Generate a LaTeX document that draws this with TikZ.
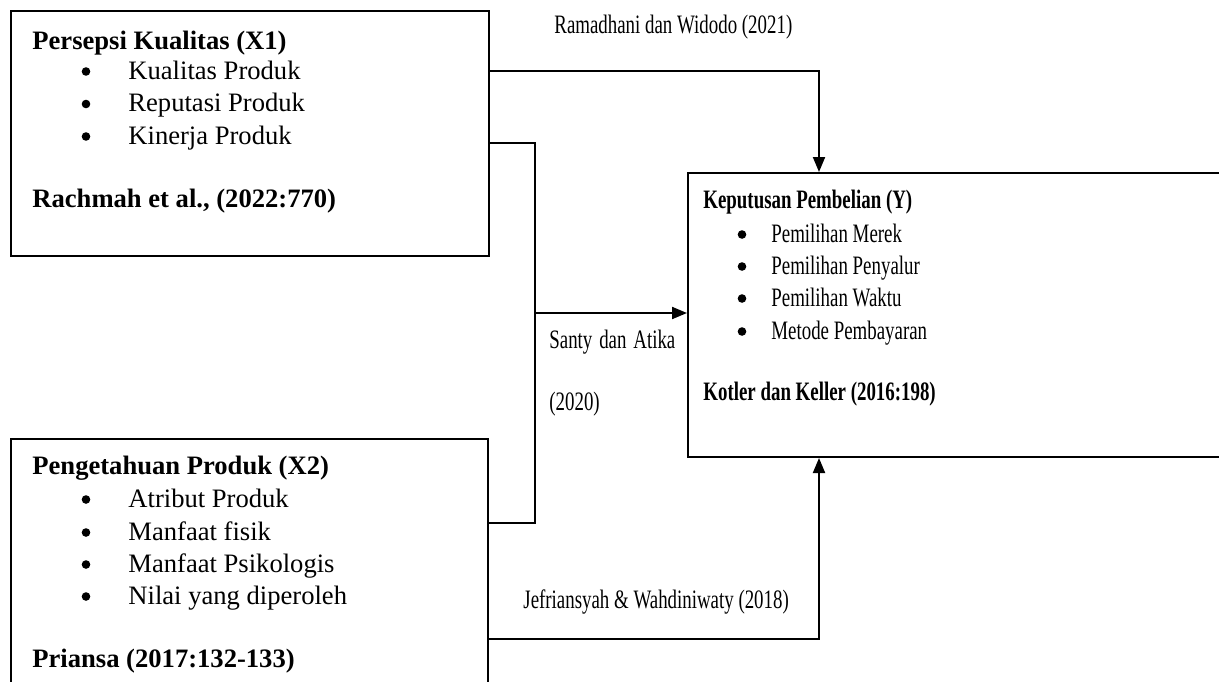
\documentclass[tikz,border=0pt]{standalone}
\usepackage{fontspec}
\usepackage{graphicx}
\setmainfont{Liberation Serif}
\usetikzlibrary{arrows.meta}
\tikzset{
  box/.style={draw, line width=1pt, rectangle, inner sep=0pt},
  txt/.style={anchor=base west, inner sep=0pt, font=\fontsize{13.3}{16}\selectfont},
  bul/.style={circle, fill, inner sep=0pt, minimum size=4.3pt, yshift=3.75pt},
  conn/.style={line width=1pt},
  arr/.style={line width=1pt, -{Triangle[length=7.5pt,width=6pt]}}
}
\newcommand{\sq}[1]{\scalebox{0.71}[1]{#1}}
\begin{document}
\begin{tikzpicture}[x=0.5pt,y=-0.5pt]
\useasboundingbox (0,0) rectangle (1219,681);
\clip (0,0) rectangle (1219,681);
% boxes
\node[box, minimum width=239pt, minimum height=122.5pt] (x1) at (250,133.5) {};
\node[box, minimum width=238.5pt, minimum height=140.5pt] (x2) at (249.5,579.5) {};
\node[box, minimum width=306pt, minimum height=142pt] (yb) at (994,315) {};
% X1 content
\node[txt] (x1t) at (32,49) {\bfseries Persepsi Kualitas (X1)};
\node[bul] (x1b1) at (86,79) {};
\node[txt] (x1i1) at (128,79) {Kualitas Produk};
\node[bul] (x1b2) at (86,111.5) {};
\node[txt] (x1i2) at (128,111.5) {Reputasi Produk};
\node[bul] (x1b3) at (86,144) {};
\node[txt] (x1i3) at (128,144) {Kinerja Produk};
\node[txt] (x1r) at (32,207) {\bfseries Rachmah et al., (2022:770)};
% X2 content
\node[txt] (x2t) at (32,474) {\bfseries Pengetahuan Produk (X2)};
\node[bul] (x2b1) at (86,507) {};
\node[txt] (x2i1) at (128,507) {Atribut Produk};
\node[bul] (x2b2) at (86,540) {};
\node[txt] (x2i2) at (128,540) {Manfaat fisik};
\node[bul] (x2b3) at (86,572) {};
\node[txt] (x2i3) at (128,572) {Manfaat Psikologis};
\node[bul] (x2b4) at (86,604) {};
\node[txt] (x2i4) at (128,604) {Nilai yang diperoleh};
\node[txt] (x2r) at (32,667) {\bfseries Priansa (2017:132-133)};
% Y content
\node[txt] (yt) at (703,208) {\sq{\bfseries Keputusan Pembelian (Y)}};
\node[bul] (yb1) at (742,242) {};
\node[txt] (yi1) at (771,242) {\sq{Pemilihan Merek}};
\node[bul] (yb2) at (742,274) {};
\node[txt] (yi2) at (771,274) {\sq{Pemilihan Penyalur}};
\node[bul] (yb3) at (742,306) {};
\node[txt] (yi3) at (771,306) {\sq{Pemilihan Waktu}};
\node[bul] (yb4) at (742,339) {};
\node[txt] (yi4) at (771,339) {\sq{Metode Pembayaran}};
\node[txt] (yr) at (703,400) {\sq{\bfseries Kotler dan Keller (2016:198)}};
% labels
\node[txt] (l1) at (554,33) {\sq{Ramadhani dan Widodo (2021)}};
\node[txt] (l2) at (549,348) {\sq{\makebox[88.7pt][s]{Santy dan Atika}}};
\node[txt] (l3) at (549,410) {\sq{(2020)}};
\node[txt] (l4) at (523,608) {\sq{Jefriansyah \& Wahdiniwaty (2018)}};
% connector coordinates
\coordinate (ra) at (819,71);
\coordinate (sa) at (535,143);
\coordinate (sb) at (535,523);
\coordinate (sm) at (535,313);
\coordinate (ja) at (819,639);
% connectors
\draw[arr] (x1.east |- ra) -| (yb.north -| ra);
\draw[conn] (x1.east |- sa) -- (sa) -- (sb) -- (x2.east |- sb);
\draw[arr] (sm) -- (yb.west |- sm);
\draw[arr] (x2.east |- ja) -| (yb.south -| ja);
\end{tikzpicture}
\end{document}
